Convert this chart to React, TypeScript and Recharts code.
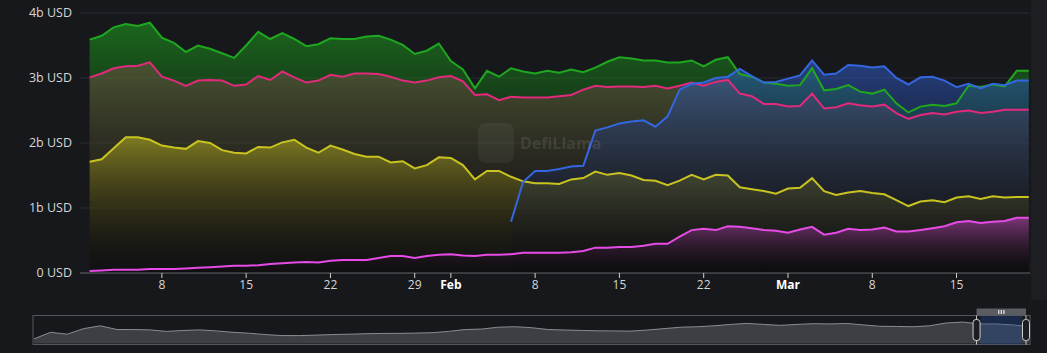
import React from "react";
import {
  ComposedChart,
  AreaChart,
  Area,
  Line,
  XAxis,
  YAxis,
  CartesianGrid,
  Brush,
} from "recharts";

// day index, 0 = 1 Jan
const firstDay = 1;
const xTicks = [7, 14, 21, 28, 31, 38, 45, 52, 59, 66, 73];
const xTickLabels = ["8", "15", "22", "29", "Feb", "8", "15", "22", "Mar", "8", "15"];
const yTicks = [0, 1, 2, 3, 4];

// values in billions USD, one per day
const green = [
  3.59, 3.65, 3.78, 3.83, 3.8, 3.85, 3.62, 3.54, 3.4, 3.5, 3.45, 3.38, 3.31, 3.5, 3.71, 3.6, 3.69, 3.6, 3.49, 3.52, 3.61, 3.6,
  3.6, 3.64, 3.65, 3.59, 3.51, 3.37, 3.42, 3.53, 3.26, 3.13, 2.84, 3.11, 3.02, 3.15, 3.1, 3.07, 3.11, 3.08, 3.13, 3.09, 3.16, 3.25, 3.32, 3.3, 3.27, 3.27, 3.24, 3.24,
  3.27, 3.18, 3.28, 3.32, 3.06, 3.02, 2.93, 2.91, 2.88, 2.89, 3.15, 2.81, 2.83, 2.89, 2.79, 2.76, 2.82, 2.61, 2.47, 2.56, 2.59, 2.57, 2.61, 2.88, 2.86, 2.9, 2.87, 3.11, 3.11,
];
const pink = [
  3.01, 3.07, 3.15, 3.18, 3.19, 3.24, 3.02, 2.96, 2.88, 2.96, 2.97, 2.96, 2.88, 2.9, 3.03, 2.97, 3.1, 3.01, 2.93, 2.96, 3.05, 3.02,
  3.07, 3.07, 3.06, 3.02, 2.96, 2.93, 2.96, 3.01, 3.03, 2.95, 2.74, 2.75, 2.66, 2.71, 2.7, 2.7, 2.7, 2.72, 2.74, 2.82, 2.88, 2.86, 2.87, 2.87, 2.86, 2.88, 2.84, 2.88,
  2.93, 2.88, 2.94, 2.97, 2.76, 2.72, 2.6, 2.6, 2.56, 2.57, 2.76, 2.53, 2.55, 2.61, 2.58, 2.56, 2.59, 2.46, 2.37, 2.43, 2.46, 2.44, 2.48, 2.5, 2.46, 2.48, 2.51, 2.51, 2.51,
];
const yellow = [
  1.71, 1.75, 1.92, 2.09, 2.09, 2.05, 1.96, 1.93, 1.91, 2.03, 2.0, 1.89, 1.85, 1.84, 1.94, 1.93, 2.01, 2.05, 1.93, 1.85, 1.96, 1.9,
  1.83, 1.79, 1.79, 1.7, 1.72, 1.61, 1.66, 1.78, 1.77, 1.66, 1.44, 1.57, 1.57, 1.48, 1.41, 1.38, 1.38, 1.37, 1.44, 1.46, 1.56, 1.51, 1.54, 1.5, 1.43, 1.42, 1.35, 1.42,
  1.51, 1.44, 1.51, 1.5, 1.32, 1.29, 1.26, 1.22, 1.3, 1.31, 1.46, 1.26, 1.2, 1.24, 1.26, 1.23, 1.21, 1.12, 1.03, 1.1, 1.12, 1.09, 1.16, 1.18, 1.14, 1.18, 1.16, 1.17, 1.17,
];
const blue = [
  null, null, null, null, null, null, null, null, null, null, null, null, null, null, null, null, null, null, null, null, null, null,
  null, null, null, null, null, null, null, null, null, null, null, null, null, 0.79, 1.4, 1.57, 1.57, 1.6, 1.64, 1.65, 2.19, 2.24, 2.3, 2.33, 2.35, 2.25, 2.41, 2.82,
  2.91, 2.93, 3.0, 3.02, 3.14, 3.03, 2.93, 2.94, 2.99, 3.04, 3.27, 3.05, 3.07, 3.2, 3.19, 3.16, 3.18, 3.0, 2.9, 3.01, 3.02, 2.96, 2.86, 2.91, 2.84, 2.91, 2.89, 2.96, 2.96,
];
const magenta = [
  0.03, 0.04, 0.05, 0.05, 0.05, 0.06, 0.06, 0.06, 0.07, 0.08, 0.09, 0.1, 0.11, 0.11, 0.12, 0.14, 0.15, 0.16, 0.17, 0.16, 0.19, 0.2,
  0.2, 0.2, 0.23, 0.26, 0.26, 0.23, 0.26, 0.28, 0.29, 0.27, 0.26, 0.28, 0.28, 0.29, 0.31, 0.31, 0.31, 0.31, 0.32, 0.34, 0.39, 0.39, 0.4, 0.4, 0.42, 0.45, 0.45, 0.56,
  0.66, 0.68, 0.66, 0.72, 0.71, 0.69, 0.66, 0.65, 0.62, 0.67, 0.71, 0.59, 0.62, 0.68, 0.66, 0.67, 0.7, 0.64, 0.64, 0.66, 0.69, 0.72, 0.78, 0.8, 0.77, 0.79, 0.8, 0.85, 0.85,
];

// long-range total for the zoom bar
const history = [
  5, 12, 10, 16, 19, 15, 15, 14.6, 13, 14, 14.6, 13.5, 12, 11, 9.5, 8.5, 8.5, 9, 9.6, 10, 10.5, 10.8, 10.9, 11.2, 11.6, 13, 15, 15.5, 17.5, 18,
  17, 15, 14.5, 14, 13.6, 13.5, 13.3, 14.5, 16, 17.5, 18, 19, 20.5, 21.6, 20.5, 19.5, 20.5, 21.3, 21, 21.5, 20, 18.5, 18.3, 18, 19, 22, 23, 21, 21, 20, 18.3,
];
const brushStart = 57;

// fill order, bottom to top
const series = [
  { key: "pink", color: "#e2297c", top: 0.45 },
  { key: "green", color: "#1fa71f", top: 0.55 },
  { key: "yellow", color: "#c9c320", top: 0.5 },
  { key: "blue", color: "#3466e0", top: 0.5 },
  { key: "magenta", color: "#e64be6", top: 0.45 },
];
const lineOrder = ["green", "pink", "yellow", "blue", "magenta"];

const days = green.map((_, i) => firstDay + i);
const data = days.map((d, i) => ({
  d,
  green: green[i],
  pink: pink[i],
  blue: blue[i],
  yellow: yellow[i],
  magenta: magenta[i],
}));
const historyData = history.map((v, i) => ({ i, v }));

const FONT = "'Open Sans', sans-serif";

function XTick(props: any) {
  const { x, y, payload } = props;
  const label = xTickLabels[xTicks.indexOf(payload.value)];
  const isMonth = isNaN(Number(label));
  return (
    <text
      x={x}
      y={y}
      dy={9}
      textAnchor="middle"
      fontSize={12}
      fontWeight={isMonth ? 700 : 400}
      fill={isMonth ? "#ffffff" : "#d6d6d6"}
    >
      {label}
    </text>
  );
}

const BRUSH_X = 33;
const BRUSH_W = 997;
const TRAV_W = 8;

function Handle(props: any) {
  const { x, y, width, height } = props;
  const cx = x + width / 2;
  // the start handle also carries the grip tab over the window
  const isStart = x < BRUSH_X + BRUSH_W - TRAV_W - 1;
  const span =
    ((historyData.length - 1 - brushStart) / (historyData.length - 1)) * (BRUSH_W - TRAV_W);
  const mid = cx + span / 2;
  return (
    <g>
      {isStart && (
        <g>
          <rect x={cx} y={y - 7} width={span} height={7} fill="#5b5c61" />
          <rect x={mid - 3.2} y={y - 5.5} width={1.3} height={4} fill="#e0e0e0" />
          <rect x={mid - 0.6} y={y - 5.5} width={1.3} height={4} fill="#e0e0e0" />
          <rect x={mid + 2} y={y - 5.5} width={1.3} height={4} fill="#e0e0e0" />
        </g>
      )}
      <line x1={cx} x2={cx} y1={y} y2={y + height} stroke="#c9c9c9" strokeWidth={1} />
      <rect
        x={cx - 3.5}
        y={y + 4}
        width={7}
        height={height - 8}
        rx={3}
        fill="#1d1e23"
        stroke="#cfcfcf"
        strokeWidth={1}
      />
    </g>
  );
}

export default function App() {
  return (
    <div
      style={{
        position: "relative",
        width: 1047,
        height: 353,
        background: "#17181c",
        fontFamily: FONT,
        overflow: "hidden",
      }}
    >
      <style>{`body{margin:0;background:#17181c}
.recharts-brush-slide{fill:#1f4c9c;fill-opacity:0.35}`}</style>
      <div
        style={{
          position: "absolute",
          left: 1031,
          top: 0,
          width: 16,
          height: 300,
          background: "#1d1e22",
        }}
      />
      <div style={{ position: "absolute", left: 0, top: 0 }}>
        <ComposedChart
          width={1047}
          height={300}
          data={data}
          margin={{ top: 13, right: 17, bottom: 0, left: 0 }}
        >
          <defs>
            {series.map((s) => (
              <linearGradient key={s.key} id={`fill-${s.key}`} x1="0" y1="0" x2="0" y2="1">
                <stop offset="0%" stopColor={s.color} stopOpacity={s.top} />
                <stop offset="100%" stopColor="#000000" stopOpacity={0.12} />
              </linearGradient>
            ))}
          </defs>
          <CartesianGrid vertical={false} stroke="#2a2b30" />
          <XAxis
            dataKey="d"
            type="number"
            domain={[0.2, 79.1]}
            ticks={xTicks}
            interval={0}
            height={27}
            axisLine={{ stroke: "#5c5d62" }}
            tickLine={{ stroke: "#d0d0d0" }}
            tickSize={5}
            tickMargin={2}
            tick={<XTick />}
            allowDataOverflow
          />
          <YAxis
            width={80}
            domain={[0, 4]}
            ticks={yTicks}
            axisLine={false}
            tickLine={false}
            tick={{ fill: "#d6d6d6", fontSize: 12.5 }}
            tickFormatter={(v: number) => `${v}${v === 0 ? "" : "b"} USD`}
          />
          {series.map((s) => (
            <Area
              key={`a-${s.key}`}
              type="linear"
              dataKey={s.key}
              stroke="none"
              fill={`url(#fill-${s.key})`}
              fillOpacity={1}
              dot={false}
              activeDot={false}
              isAnimationActive={false}
            />
          ))}
          {lineOrder.map((k) => (
            <Line
              key={`l-${k}`}
              type="linear"
              dataKey={k}
              stroke={series.find((s) => s.key === k)!.color}
              strokeWidth={2}
              dot={false}
              activeDot={false}
              isAnimationActive={false}
            />
          ))}
        </ComposedChart>
      </div>

      {/* watermark */}
      <div
        style={{
          position: "absolute",
          left: 478,
          top: 123,
          width: 36,
          height: 40,
          borderRadius: 8,
          background: "rgba(255,255,255,0.05)",
          pointerEvents: "none",
        }}
      />
      <div
        style={{
          position: "absolute",
          left: 520,
          top: 132,
          fontSize: 16,
          fontWeight: 700,
          color: "rgba(255,255,255,0.1)",
          pointerEvents: "none",
        }}
      >
        DefiLlama
      </div>

      <div style={{ position: "absolute", left: 0, top: 300 }}>
        <ComposedChart width={1047} height={53} data={historyData} margin={{ top: 0, right: 0, bottom: 0, left: 0 }}>
          <Brush
            dataKey="i"
            x={BRUSH_X}
            y={15.5}
            width={BRUSH_W}
            height={29}
            travellerWidth={TRAV_W}
            startIndex={brushStart}
            endIndex={historyData.length - 1}
            fill="transparent"
            stroke="#55565b"
            traveller={(p: any) => <Handle {...p} />}
            tickFormatter={() => ""}
          >
            <AreaChart data={historyData}>
              <YAxis hide domain={[0, 29]} />
              <Area
                type="linear"
                dataKey="v"
                stroke="#8b8c91"
                strokeWidth={1}
                fill="#3e3f45"
                fillOpacity={1}
                dot={false}
                isAnimationActive={false}
              />
            </AreaChart>
          </Brush>
        </ComposedChart>
      </div>
    </div>
  );
}
